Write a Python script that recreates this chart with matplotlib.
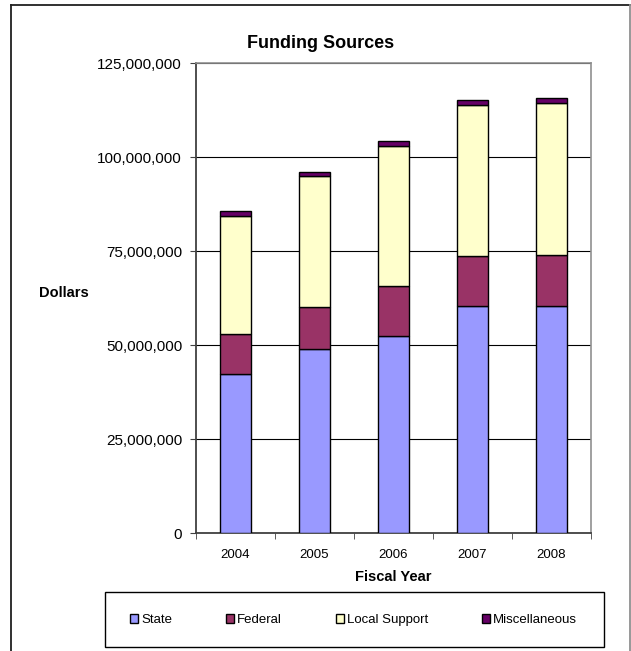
import numpy as np
import matplotlib.pyplot as plt
from matplotlib.lines import Line2D
from matplotlib.patches import Rectangle

plt.rcParams['font.family'] = ['Liberation Sans', 'DejaVu Sans']

years = ['2004', '2005', '2006', '2007', '2008']
state = [42.4, 49.0, 52.6, 60.4, 60.4]
federal = [10.6, 11.3, 13.3, 13.3, 13.7]
local_support = [31.4, 34.6, 37.1, 40.2, 40.4]
misc = [1.3, 1.3, 1.3, 1.3, 1.2]
series_names = ['State', 'Federal', 'Local Support', 'Miscellaneous']
colors = ['#9999FF', '#993366', '#FFFFCC', '#660066']

W, H = 631, 651
fig = plt.figure(figsize=(W / 100, H / 100), dpi=100)
ax = fig.add_axes([196 / W, 1 - 533.3 / H, 395 / W, 470 / H])

x = np.arange(len(years))
bottom = np.zeros(len(years))
handles = []
for vals, name, c in zip([state, federal, local_support, misc], series_names, colors):
    v = np.array(vals) * 1e6
    b = ax.bar(x, v, 0.405, bottom=bottom, color=c, edgecolor='black',
               linewidth=1.0, label=name, zorder=3)
    handles.append(b)
    bottom += v

ax.set_xlim(-0.5, 4.5)
ax.set_ylim(0, 125e6)
ax.set_yticks(np.arange(0, 125e6 + 1, 25e6))
ax.set_yticklabels([f'{int(t):,}' for t in np.arange(0, 125e6 + 1, 25e6)], fontsize=11)
ax.yaxis.grid(True, color='black', linewidth=0.8, zorder=0)
ax.set_axisbelow(True)

ax.set_xticks(x)
ax.set_xticklabels(years, fontsize=9.5)
ax.set_xticks(np.arange(-0.5, 5, 1), minor=True)
ax.tick_params(axis='x', which='major', length=0, pad=11)
ax.tick_params(axis='x', which='minor', length=4, direction='out', color='#404040')
ax.tick_params(axis='y', length=4, direction='out', color='#404040', pad=6)

for s in ['top', 'right']:
    ax.spines[s].set_color('#909090')
    ax.spines[s].set_linewidth(1.2)
ax.spines['left'].set_color('#404040')
ax.spines['left'].set_linewidth(1.3)
ax.spines['bottom'].set_color('#404040')
ax.spines['bottom'].set_linewidth(1.3)

fig.text(321 / W, 1 - 43 / H, 'Funding Sources', fontsize=13, fontweight='bold',
         ha='center', va='center')
fig.text(64 / W, 1 - 293 / H, 'Dollars', fontsize=10.5, fontweight='bold',
         ha='center', va='center')
fig.text(393 / W, 1 - 577 / H, 'Fiscal Year', fontsize=10.5, fontweight='bold',
         ha='center', va='center')

# legend box drawn separately, entries spread inside it
fig.add_artist(Rectangle((105 / W, 1 - 647 / H), 499 / W, 55 / H, transform=fig.transFigure,
                         facecolor='white', edgecolor='black', linewidth=1.0))
leg = fig.legend(handles=handles, labels=series_names, loc='center left',
                 bbox_to_anchor=(130 / W, 1 - 630 / H, 447 / W, 20 / H),
                 mode='expand', ncol=4, fontsize=9.5, frameon=False,
                 handlelength=0.6, handleheight=0.6, handletextpad=0.25,
                 borderaxespad=0, borderpad=0)

# outer chart border
fig.add_artist(Line2D([11 / W, 11 / W], [0, 1 - 5 / H], transform=fig.transFigure,
                      color='#202020', linewidth=1.3))
fig.add_artist(Line2D([11 / W, 630 / W], [1 - 5 / H, 1 - 5 / H], transform=fig.transFigure,
                      color='#202020', linewidth=1.3))
fig.add_artist(Line2D([629.5 / W, 629.5 / W], [0, 1 - 5 / H], transform=fig.transFigure,
                      color='#909090', linewidth=1.3))

fig.savefig('out.png', dpi=100)
